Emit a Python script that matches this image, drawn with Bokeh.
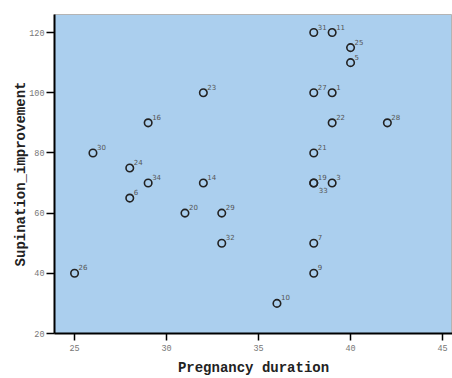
from bokeh.plotting import figure
from bokeh.models import ColumnDataSource, Range1d, FixedTicker
from bokeh.embed import file_html
from bokeh.resources import INLINE
from bokeh.core.properties import value

# Data
case_ids = [31, 11, 25, 5, 23, 27, 1, 16, 22, 28, 30, 21, 24, 34, 14, 19, 3, 33, 6, 20, 29, 32, 7, 9, 26, 10]
pregnancy_duration = [38, 39, 40, 40, 32, 38, 39, 29, 39, 42, 26, 38, 28, 29, 32, 38, 39, 38, 28, 31, 33, 33, 38, 38, 25, 36]
supination_improvement = [120, 120, 115, 110, 100, 100, 100, 90, 90, 90, 80, 80, 75, 70, 70, 70, 70, 70, 65, 60, 60, 50, 50, 40, 40, 30]
x_ticks = [25, 30, 35, 40, 45]
y_ticks = [20, 40, 60, 80, 100, 120]

# Labels of points that share a position with an earlier point go below it
seen = set()
lx, ly, lbl, lyoff, lxoff, lbase = [], [], [], [], [], []
for cid, xv, yv in zip(case_ids, pregnancy_duration, supination_improvement):
    lx.append(xv)
    ly.append(yv)
    lbl.append(str(cid))
    if (xv, yv) in seen:
        lxoff.append(5)
        lyoff.append(4)
        lbase.append("top")
    else:
        lxoff.append(4)
        lyoff.append(-3)
        lbase.append("bottom")
    seen.add((xv, yv))

pts = ColumnDataSource(dict(x=pregnancy_duration, y=supination_improvement))
labs = ColumnDataSource(dict(x=lx, y=ly, t=lbl, xo=lxoff, yo=lyoff, b=lbase))

p = figure(width=452, height=378, output_backend="svg", toolbar_location=None,
           x_range=Range1d(23.91, 45.54), y_range=Range1d(20, 126),
           min_border_left=54, min_border_right=0, min_border_top=14, min_border_bottom=30)

p.background_fill_color = "#abcfee"
p.border_fill_color = "white"
p.outline_line_color = "#b4b4b4"
p.outline_line_width = 1
p.grid.visible = False

p.scatter("x", "y", source=pts, marker="circle", size=7.5, fill_color=None,
          line_color="#222222", line_width=1.6)
p.text("x", "y", text="t", source=labs, x_offset="xo", y_offset="yo",
       text_baseline="b", text_align="left", text_font=value("DejaVu Sans"),
       text_font_size="7px", text_color="#555555")

for ax in (p.xaxis[0], p.yaxis[0]):
    ax.axis_line_color = "black"
    ax.axis_line_width = 2
    ax.major_tick_line_color = "black"
    ax.major_tick_line_width = 1.5
    ax.major_tick_out = 7
    ax.major_tick_in = 0
    ax.minor_tick_line_color = None
    ax.major_label_text_font = "Liberation Mono"
    ax.major_label_text_font_size = "8.5px"
    ax.major_label_text_color = "#777777"
    ax.axis_label_text_font = "Liberation Mono"
    ax.axis_label_text_font_style = "bold"
    ax.axis_label_text_font_size = "14px"
    ax.axis_label_text_color = "#222222"

p.yaxis[0].major_tick_out = 8
p.xaxis[0].ticker = FixedTicker(ticks=x_ticks)
p.yaxis[0].ticker = FixedTicker(ticks=y_ticks)
p.xaxis[0].axis_label = "Pregnancy duration"
p.yaxis[0].axis_label = "Supination_improvement"
p.xaxis[0].major_label_standoff = 4
p.xaxis[0].axis_label_standoff = 6
p.yaxis[0].major_label_standoff = 2
p.yaxis[0].axis_label_standoff = -3

open("out.html", "w").write(file_html(p, INLINE))
